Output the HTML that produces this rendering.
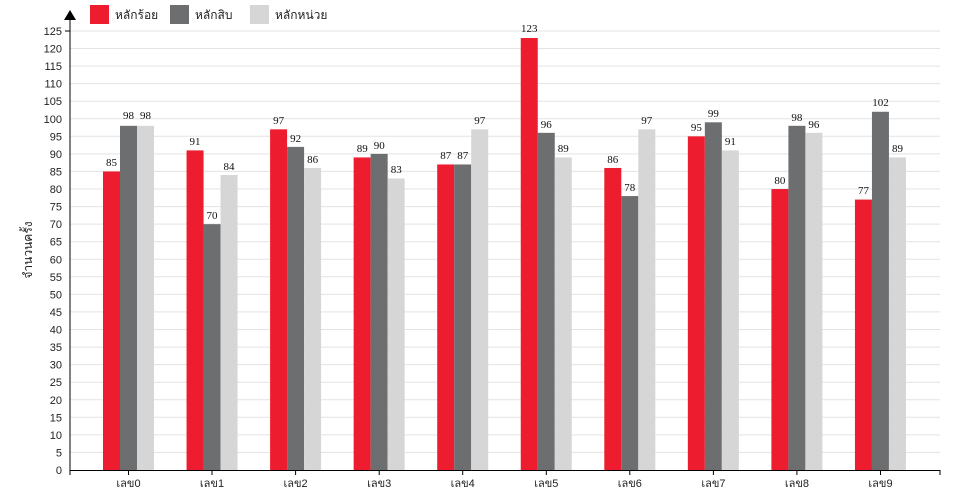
<!DOCTYPE html>
<html><head><meta charset="utf-8"><style>body{margin:0;background:#fff}svg{display:block}</style></head><body>
<svg width="960" height="500" xmlns="http://www.w3.org/2000/svg" font-family="Liberation Sans, 'Noto Sans CJK SC', sans-serif">
<g stroke="#e3e3e3" stroke-width="1">
<line x1="70" x2="940" y1="452.4" y2="452.4"/><line x1="70" x2="940" y1="434.9" y2="434.9"/><line x1="70" x2="940" y1="417.3" y2="417.3"/><line x1="70" x2="940" y1="399.8" y2="399.8"/><line x1="70" x2="940" y1="382.2" y2="382.2"/><line x1="70" x2="940" y1="364.6" y2="364.6"/><line x1="70" x2="940" y1="347.1" y2="347.1"/><line x1="70" x2="940" y1="329.5" y2="329.5"/><line x1="70" x2="940" y1="311.9" y2="311.9"/><line x1="70" x2="940" y1="294.4" y2="294.4"/><line x1="70" x2="940" y1="276.8" y2="276.8"/><line x1="70" x2="940" y1="259.3" y2="259.3"/><line x1="70" x2="940" y1="241.7" y2="241.7"/><line x1="70" x2="940" y1="224.1" y2="224.1"/><line x1="70" x2="940" y1="206.6" y2="206.6"/><line x1="70" x2="940" y1="189" y2="189"/><line x1="70" x2="940" y1="171.4" y2="171.4"/><line x1="70" x2="940" y1="153.9" y2="153.9"/><line x1="70" x2="940" y1="136.3" y2="136.3"/><line x1="70" x2="940" y1="118.8" y2="118.8"/><line x1="70" x2="940" y1="101.2" y2="101.2"/><line x1="70" x2="940" y1="83.6" y2="83.6"/><line x1="70" x2="940" y1="66.1" y2="66.1"/><line x1="70" x2="940" y1="48.5" y2="48.5"/><line x1="70" x2="940" y1="31" y2="31"/>
</g>
<g font-size="11" fill="#222" text-anchor="end">
<text x="62" y="474">0</text><text x="62" y="456.4">5</text><text x="62" y="438.9">10</text><text x="62" y="421.3">15</text><text x="62" y="403.8">20</text><text x="62" y="386.2">25</text><text x="62" y="368.6">30</text><text x="62" y="351.1">35</text><text x="62" y="333.5">40</text><text x="62" y="315.9">45</text><text x="62" y="298.4">50</text><text x="62" y="280.8">55</text><text x="62" y="263.3">60</text><text x="62" y="245.7">65</text><text x="62" y="228.1">70</text><text x="62" y="210.6">75</text><text x="62" y="193">80</text><text x="62" y="175.4">85</text><text x="62" y="157.9">90</text><text x="62" y="140.3">95</text><text x="62" y="122.8">100</text><text x="62" y="105.2">105</text><text x="62" y="87.6">110</text><text x="62" y="70.1">115</text><text x="62" y="52.5">120</text><text x="62" y="35">125</text>
</g>
<g transform="translate(0,470) scale(1,3.512)">
<g fill="#ed1c2e">
<rect x="103" y="-85" width="17" height="85"/><rect x="186.55" y="-91" width="17" height="91"/><rect x="270.1" y="-97" width="17" height="97"/><rect x="353.65" y="-89" width="17" height="89"/><rect x="437.2" y="-87" width="17" height="87"/><rect x="520.75" y="-123" width="17" height="123"/><rect x="604.3" y="-86" width="17" height="86"/><rect x="687.85" y="-95" width="17" height="95"/><rect x="771.4" y="-80" width="17" height="80"/><rect x="854.95" y="-77" width="17" height="77"/>
</g>
<g fill="#6d6e70">
<rect x="120" y="-98" width="17" height="98"/><rect x="203.55" y="-70" width="17" height="70"/><rect x="287.1" y="-92" width="17" height="92"/><rect x="370.65" y="-90" width="17" height="90"/><rect x="454.2" y="-87" width="17" height="87"/><rect x="537.75" y="-96" width="17" height="96"/><rect x="621.3" y="-78" width="17" height="78"/><rect x="704.85" y="-99" width="17" height="99"/><rect x="788.4" y="-98" width="17" height="98"/><rect x="871.95" y="-102" width="17" height="102"/>
</g>
<g fill="#d6d6d6">
<rect x="137" y="-98" width="17" height="98"/><rect x="220.55" y="-84" width="17" height="84"/><rect x="304.1" y="-86" width="17" height="86"/><rect x="387.65" y="-83" width="17" height="83"/><rect x="471.2" y="-97" width="17" height="97"/><rect x="554.75" y="-89" width="17" height="89"/><rect x="638.3" y="-97" width="17" height="97"/><rect x="721.85" y="-91" width="17" height="91"/><rect x="805.4" y="-96" width="17" height="96"/><rect x="888.95" y="-89" width="17" height="89"/>
</g>
</g>
<g font-family="Liberation Serif, serif" font-size="11" fill="#111" text-anchor="middle">
<text x="111.5" y="166">85</text><text x="128.5" y="119">98</text><text x="145.5" y="119">98</text>
<text x="195" y="145">91</text><text x="212" y="219">70</text><text x="229" y="170">84</text>
<text x="278.6" y="124">97</text><text x="295.6" y="142">92</text><text x="312.6" y="163">86</text>
<text x="362.2" y="152">89</text><text x="379.2" y="149">90</text><text x="396.2" y="173">83</text>
<text x="445.7" y="159">87</text><text x="462.7" y="159">87</text><text x="479.7" y="124">97</text>
<text x="529.3" y="32">123</text><text x="546.3" y="128">96</text><text x="563.3" y="152">89</text>
<text x="612.8" y="163">86</text><text x="629.8" y="191">78</text><text x="646.8" y="124">97</text>
<text x="696.4" y="131">95</text><text x="713.4" y="117">99</text><text x="730.4" y="145">91</text>
<text x="779.9" y="184">80</text><text x="796.9" y="121">98</text><text x="813.9" y="128">96</text>
<text x="863.5" y="194">77</text><text x="880.5" y="106">102</text><text x="897.5" y="152">89</text>
</g>
<g stroke="#000" stroke-width="1">
<line x1="70" y1="18" x2="70" y2="470"/><line x1="70" y1="470.5" x2="940" y2="470.5"/>
<line x1="70" y1="470" x2="70" y2="475"/><line x1="940" y1="470" x2="940" y2="475"/>
<line x1="128.5" y1="470" x2="128.5" y2="475"/><line x1="212" y1="470" x2="212" y2="475"/><line x1="295.6" y1="470" x2="295.6" y2="475"/><line x1="379.2" y1="470" x2="379.2" y2="475"/><line x1="462.7" y1="470" x2="462.7" y2="475"/><line x1="546.3" y1="470" x2="546.3" y2="475"/><line x1="629.8" y1="470" x2="629.8" y2="475"/><line x1="713.4" y1="470" x2="713.4" y2="475"/><line x1="796.9" y1="470" x2="796.9" y2="475"/><line x1="880.5" y1="470" x2="880.5" y2="475"/>
<line x1="65" y1="31" x2="70" y2="31"/>
</g>
<polygon points="70,10 64,20 76,20" fill="#000"/>
<g font-size="11" fill="#222" text-anchor="middle">
<text x="128.5" y="487">เลข0</text><text x="212" y="487">เลข1</text><text x="295.6" y="487">เลข2</text><text x="379.2" y="487">เลข3</text><text x="462.7" y="487">เลข4</text><text x="546.3" y="487">เลข5</text><text x="629.8" y="487">เลข6</text><text x="713.4" y="487">เลข7</text><text x="796.9" y="487">เลข8</text><text x="880.5" y="487">เลข9</text>
</g>
<text transform="translate(32,250) rotate(-90)" font-size="12" fill="#222" text-anchor="middle">จำนวนครั้ง</text>
<rect x="90" y="5" width="19" height="19" fill="#ed1c2e"/><text x="115" y="19" font-size="12" fill="#222">หลักร้อย</text>
<rect x="170" y="5" width="19" height="19" fill="#6d6e70"/><text x="195" y="19" font-size="12" fill="#222">หลักสิบ</text>
<rect x="250" y="5" width="19" height="19" fill="#d6d6d6"/><text x="275" y="19" font-size="12" fill="#222">หลักหน่วย</text>
</svg>
</body></html>
